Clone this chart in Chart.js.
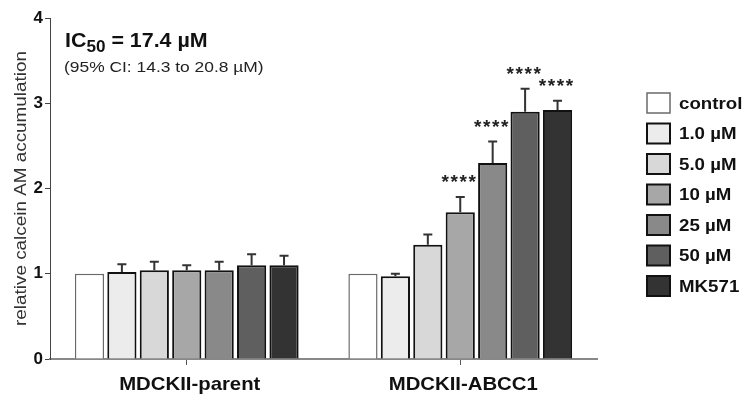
<!DOCTYPE html>
<html>
<head>
<meta charset="utf-8">
<script src="https://cdn.jsdelivr.net/npm/chart.js@4.4.1/dist/chart.umd.min.js"></script>
<style>
  html, body { margin: 0; padding: 0; background: #fff; }
  #chart { display: block; }
</style>
</head>
<body>
<canvas id="chart" width="746" height="400"></canvas>
<script>
const categories = ['MDCKII-parent', 'MDCKII-ABCC1'];
const treatments = ['control', '1.0 µM', '5.0 µM', '10 µM', '25 µM', '50 µM', 'MK571'];
const parentMeans = [1.00, 1.02, 1.04, 1.04, 1.04, 1.10, 1.10];
const parentErr = [0, 0.09, 0.10, 0.06, 0.10, 0.13, 0.11];
const abcc1Means = [1.00, 0.97, 1.34, 1.72, 2.30, 2.90, 2.92];
const abcc1Err = [0, 0.03, 0.12, 0.18, 0.25, 0.27, 0.11];
const abcc1Stars = ['', '', '', '****', '****', '****', '****'];
const yTicks = [0, 1, 2, 3, 4];
const yTitle = 'relative calcein AM accumulation';
const ic50Text = ['IC', '50', ' = 17.4 µM'];
const ciText = '(95% CI: 14.3 to 20.8 µM)';

const fills = ['#ffffff', '#ececec', '#d8d8d8', '#a7a7a7', '#898989', '#5f5f5f', '#333333'];
const FONT = "'Liberation Sans', Arial, sans-serif";

const datasets = treatments.map((t, i) => ({
    label: t,
    data: [parentMeans[i], abcc1Means[i]],
    errors: [parentErr[i], abcc1Err[i]],
    stars: ['', abcc1Stars[i]],
    backgroundColor: fills[i],
    borderColor: i === 0 ? '#6a6a6a' : '#111',
    borderWidth: i === 0 ? 1.5 : 2,
    categoryPercentage: 0.83,
    barPercentage: 0.9
}));

// draw text squeezed/stretched horizontally
function wideText(ctx, text, x, y, sx, align) {
    ctx.save();
    ctx.translate(x, y);
    ctx.scale(sx, 1);
    ctx.textAlign = align || 'left';
    ctx.fillText(text, 0, 0);
    ctx.restore();
}

const extrasPlugin = {
    id: 'extras',
    afterDatasetsDraw(chart) {
        const ctx = chart.ctx;
        const yScale = chart.scales.y;
        const xScale = chart.scales.x;

        // error bars (upper only) and significance stars
        chart.data.datasets.forEach((ds, i) => {
            const meta = chart.getDatasetMeta(i);
            meta.data.forEach((bar, j) => {
                const err = ds.errors[j];
                const top = yScale.getPixelForValue(ds.data[j] + err);
                if (err > 0) {
                    ctx.save();
                    ctx.strokeStyle = '#333';
                    ctx.lineWidth = 2;
                    ctx.beginPath();
                    ctx.moveTo(bar.x, bar.y);
                    ctx.lineTo(bar.x, top);
                    ctx.moveTo(bar.x - 4.5, top);
                    ctx.lineTo(bar.x + 4.5, top);
                    ctx.stroke();
                    ctx.restore();
                }
                const s = ds.stars[j];
                if (s) {
                    ctx.save();
                    ctx.fillStyle = '#222';
                    ctx.font = 'bold 19px ' + FONT;
                    ctx.textAlign = 'center';
                    ctx.textBaseline = 'alphabetic';
                    // spread the asterisks out like the original typesetting
                    for (let k = 0; k < s.length; k++) {
                        ctx.fillText(s[k], bar.x - 1.5 + (k - (s.length - 1) / 2) * 9, top - 9);
                    }
                    ctx.restore();
                }
            });
        });

        // category labels
        ctx.save();
        ctx.fillStyle = '#111';
        ctx.font = 'bold 19px ' + FONT;
        ctx.textBaseline = 'alphabetic';
        categories.forEach((c, i) => {
            wideText(ctx, c, xScale.getPixelForValue(i) + 3, 390, 1.07, 'center');
        });
        ctx.restore();

        // y axis title
        ctx.save();
        ctx.fillStyle = '#333';
        ctx.font = '16px ' + FONT;
        ctx.translate(26, (chart.chartArea.top + chart.chartArea.bottom) / 2);
        ctx.rotate(-Math.PI / 2);
        ctx.scale(1.18, 1);
        ctx.textAlign = 'center';
        ctx.textBaseline = 'alphabetic';
        ctx.fillText(yTitle, 0, 0);
        ctx.restore();

        // IC50 annotation
        ctx.save();
        ctx.fillStyle = '#111';
        ctx.textBaseline = 'alphabetic';
        ctx.translate(65, 0);
        ctx.scale(1.07, 1);
        ctx.font = 'bold 20px ' + FONT;
        let x = 0;
        ctx.fillText(ic50Text[0], x, 47);
        x += ctx.measureText(ic50Text[0]).width;
        ctx.font = 'bold 16px ' + FONT;
        ctx.fillText(ic50Text[1], x, 52);
        x += ctx.measureText(ic50Text[1]).width;
        ctx.font = 'bold 20px ' + FONT;
        ctx.fillText(ic50Text[2], x, 47);
        ctx.restore();

        ctx.save();
        ctx.fillStyle = '#222';
        ctx.font = '15px ' + FONT;
        ctx.textBaseline = 'alphabetic';
        wideText(ctx, ciText, 64, 72, 1.16, 'left');
        ctx.restore();

        // legend
        ctx.save();
        chart.data.datasets.forEach((ds, i) => {
            const cy = 103 + i * 30.5;
            ctx.fillStyle = ds.backgroundColor;
            ctx.fillRect(647, cy - 10, 23, 20);
            ctx.strokeStyle = ds.borderColor;
            ctx.lineWidth = ds.borderWidth;
            ctx.strokeRect(647, cy - 10, 23, 20);
            ctx.fillStyle = '#111';
            ctx.font = 'bold 17px ' + FONT;
            ctx.textBaseline = 'middle';
            wideText(ctx, ds.label, 679, cy + 1, 1.1, 'left');
        });
        ctx.restore();
    }
};

new Chart(document.getElementById('chart'), {
    type: 'bar',
    data: { labels: categories, datasets: datasets },
    options: {
        responsive: false,
        animation: false,
        devicePixelRatio: 1,
        layout: { padding: { left: 0, right: 149, top: 18, bottom: 0 } },
        plugins: {
            legend: { display: false },
            tooltip: { enabled: false }
        },
        scales: {
            x: {
                offset: true,
                grid: { offset: false, drawOnChartArea: false, drawTicks: true, tickLength: 6, tickColor: '#555', lineWidth: 1 },
                border: { color: '#888', width: 2 },
                ticks: { display: false },
                afterFit: s => { s.height = 41; }
            },
            y: {
                min: 0,
                max: 4,
                afterBuildTicks: s => { s.ticks = yTicks.map(v => ({ value: v })); },
                ticks: {
                    color: '#111',
                    padding: 2,
                    font: { family: FONT, size: 17, weight: 'bold' }
                },
                grid: { drawOnChartArea: false, drawTicks: true, tickLength: 5, tickColor: '#444' },
                border: { color: '#444', width: 1 },
                afterFit: s => { s.width = 50; }
            }
        }
    },
    plugins: [extrasPlugin]
});
</script>
</body>
</html>
